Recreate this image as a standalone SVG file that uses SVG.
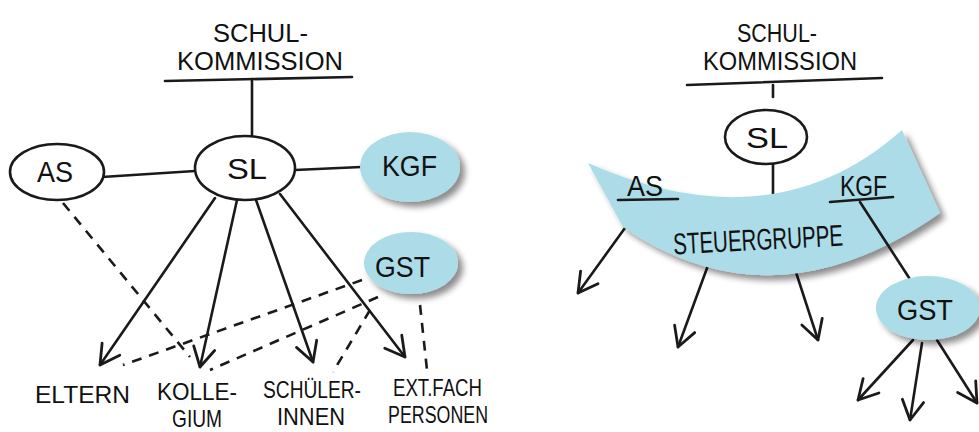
<svg xmlns="http://www.w3.org/2000/svg" width="979" height="432" viewBox="0 0 979 432">
<defs>
<style>
.ln{stroke:#1a1a1a;stroke-width:2.6;fill:none;stroke-linecap:round}
.ds{stroke:#1a1a1a;stroke-width:2.6;fill:none;stroke-dasharray:10 8}
.ar{marker-end:url(#arr)}
.el{fill:#fff;stroke:#1a1a1a;stroke-width:2.6}
.bl{fill:#abdce8;filter:url(#sh)}
.t{font-family:"Liberation Sans",Arial,sans-serif;fill:#111;font-size:30px}
.h{font-size:25px}
.s{font-size:24px}
</style>
<marker id="arr" markerUnits="userSpaceOnUse" markerWidth="30" markerHeight="30" viewBox="-22 -14 26 28" refX="0" refY="0" orient="auto">
<path d="M-18,-10 L0,0 L-18,10" fill="none" stroke="#1a1a1a" stroke-width="2.6" stroke-linecap="round" stroke-linejoin="round"/>
</marker>
<filter id="sh" x="-20%" y="-20%" width="150%" height="160%">
<feGaussianBlur in="SourceAlpha" stdDeviation="3"/>
<feOffset dx="5" dy="5" result="b"/>
<feComponentTransfer><feFuncA type="linear" slope="0.45"/></feComponentTransfer>
<feMerge><feMergeNode/><feMergeNode in="SourceGraphic"/></feMerge>
</filter>
</defs>
<rect width="979" height="432" fill="#fff"/>

<g id="connectors">
<!-- left diagram -->
<line class="ln" x1="165" y1="81" x2="352" y2="77"/>
<line class="ln" x1="252" y1="79" x2="252" y2="136"/>
<line class="ln" x1="102" y1="177" x2="195" y2="171"/>
<line class="ln" x1="295" y1="170" x2="361" y2="167"/>
<line class="ln ar" x1="215" y1="198" x2="100" y2="365"/>
<line class="ln ar" x1="237" y1="200" x2="200" y2="367"/>
<line class="ln ar" x1="256" y1="200" x2="313" y2="362"/>
<line class="ln ar" x1="280" y1="194" x2="405" y2="357"/>
<line class="ds" x1="63" y1="203" x2="190" y2="357"/>
<line class="ds" x1="362" y1="280" x2="123" y2="365"/>
<line class="ds" x1="378" y1="297" x2="210" y2="370"/>
<line class="ds" x1="370" y1="310" x2="333" y2="372"/>
<line class="ds" x1="420" y1="305" x2="427" y2="370"/>
<!-- right diagram -->
<line class="ln" x1="687" y1="85" x2="882" y2="78"/>
<line class="ln" x1="773" y1="85" x2="773" y2="97"/>
<line class="ln" x1="773" y1="164" x2="773" y2="202"/>
<line class="ln ar" x1="643" y1="203" x2="578" y2="293"/>
<line class="ln ar" x1="710" y1="260" x2="678" y2="347"/>
<line class="ln ar" x1="793" y1="263" x2="818" y2="340"/>
<line class="ln ar" x1="913" y1="340" x2="858" y2="400"/>
<line class="ln ar" x1="922" y1="343" x2="910" y2="420"/>
<line class="ln ar" x1="937" y1="340" x2="977" y2="403"/>
</g>

<g id="schulkommission-left">
<text class="t h" x="213" y="42" textLength="95" lengthAdjust="spacingAndGlyphs">SCHUL-</text>
<text class="t h" x="177" y="70" textLength="166" lengthAdjust="spacingAndGlyphs">KOMMISSION</text>
</g>
<g id="sl-left">
<ellipse class="el" cx="245" cy="168" rx="50" ry="32"/>
<text class="t" x="227" y="179" textLength="40" lengthAdjust="spacingAndGlyphs">SL</text>
</g>
<g id="as-left">
<ellipse class="el" cx="57" cy="172" rx="47" ry="28"/>
<text class="t" x="37" y="182" textLength="36" lengthAdjust="spacingAndGlyphs">AS</text>
</g>
<g id="kgf-left">
<ellipse class="bl" cx="410" cy="167" rx="50" ry="35"/>
<text class="t" x="382" y="176" textLength="55" lengthAdjust="spacingAndGlyphs">KGF</text>
</g>
<g id="gst-left">
<ellipse class="bl" cx="411" cy="263" rx="47" ry="31"/>
<text class="t" x="375" y="277" textLength="55" lengthAdjust="spacingAndGlyphs">GST</text>
</g>
<g id="eltern">
<text class="t s" x="35" y="403" textLength="95" lengthAdjust="spacingAndGlyphs">ELTERN</text>
</g>
<g id="kollegium">
<text class="t s" x="157" y="400" textLength="80" lengthAdjust="spacingAndGlyphs">KOLLE-</text>
<text class="t s" x="172" y="427" textLength="50" lengthAdjust="spacingAndGlyphs">GIUM</text>
</g>
<g id="schuelerinnen">
<text class="t s" x="263" y="398" textLength="98" lengthAdjust="spacingAndGlyphs">SCHÜLER-</text>
<text class="t s" x="277" y="425" textLength="68" lengthAdjust="spacingAndGlyphs">INNEN</text>
</g>
<g id="extfach">
<text class="t s" x="393" y="396" textLength="89" lengthAdjust="spacingAndGlyphs">EXT.FACH</text>
<text class="t s" x="388" y="423" textLength="100" lengthAdjust="spacingAndGlyphs">PERSONEN</text>
</g>

<g id="schulkommission-right">
<text class="t h" x="737" y="42" textLength="80" lengthAdjust="spacingAndGlyphs">SCHUL-</text>
<text class="t h" x="703" y="70" textLength="154" lengthAdjust="spacingAndGlyphs">KOMMISSION</text>
</g>
<g id="sl-right">
<ellipse class="el" cx="766" cy="137" rx="41" ry="27"/>
<text class="t" x="746" y="148" textLength="42" lengthAdjust="spacingAndGlyphs">SL</text>
</g>
<g id="steuergruppe">
<path class="bl" d="M588,163 Q773,245 902,130 L940,213 Q773,330 623,227 Z"/>
<text class="t" x="627" y="196" textLength="36" lengthAdjust="spacingAndGlyphs">AS</text>
<line class="ln" x1="618" y1="200" x2="678" y2="199"/>
<text class="t" x="840" y="196" textLength="47" lengthAdjust="spacingAndGlyphs">KGF</text>
<line class="ln" x1="830" y1="202" x2="893" y2="197"/>
<text class="t" x="673" y="250" textLength="170" lengthAdjust="spacingAndGlyphs" transform="rotate(-3 758 238)">STEUERGRUPPE</text>
</g>
<g id="kgf-gst-link">
<line class="ln" x1="860" y1="202" x2="915" y2="287"/>
</g>
<g id="gst-right">
<ellipse class="bl" cx="928" cy="308" rx="52" ry="32"/>
<text class="t" x="897" y="320" textLength="56" lengthAdjust="spacingAndGlyphs">GST</text>
</g>
</svg>
